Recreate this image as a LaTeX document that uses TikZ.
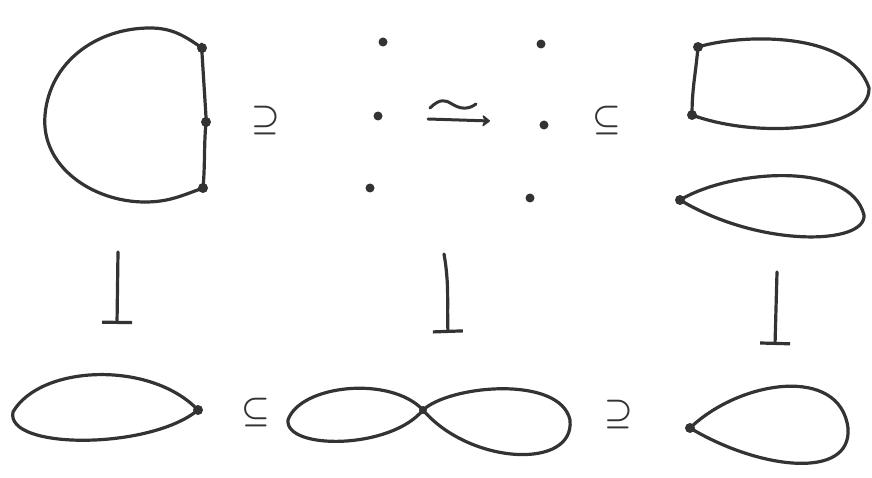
\documentclass[tikz,border=0pt]{standalone}
\usepackage{bm}
\usetikzlibrary{arrows.meta}
\newcommand{\bigrel}[1]{\scalebox{3.2}{$\bm{#1}$}}
\begin{document}
\begin{tikzpicture}[x=1pt,y=-1pt,
  ink/.style={draw=black!80, line width=3.2pt, line cap=round, line join=round},
  pt/.style={circle, fill=black!80, inner sep=0pt, minimum size=10pt},
  sdot/.style={circle, fill=black!80, inner sep=0pt, minimum size=9pt},
  rel/.style={text=black!80, inner sep=0pt},
  mapsto/.style={ink, -{Bar[width=30pt,line width=3.2pt]}}]
\useasboundingbox (0,0) rectangle (872,478);

% top-left D shape
\node[pt] (a1) at (202,48) {};
\node[pt] (a2) at (206,122) {};
\node[pt] (a3) at (203,188) {};
\draw[ink] (a1.center) to[out=95,in=-85] (a2.center) to[out=-95,in=85] (a3.center);
\draw[ink] (a1.center) to[out=145,in=0] (150,28) to[out=180,in=85] (45,115)
  to[out=-95,in=180] (145,202) to[out=0,in=-160] (a3.center);

\node[rel] (s1) at (266,121) {\bigrel{\supseteq}};

% middle dots
\node[sdot] (m1) at (383,42) {};
\node[sdot] (m2) at (541,44) {};
\node[sdot] (m3) at (378,116) {};
\node[sdot] (m4) at (544,125) {};
\node[sdot] (m5) at (370,188) {};
\node[sdot] (m6) at (530,198) {};

% homotopy equivalence arrow
\coordinate (h1) at (428,119);
\coordinate (h2) at (490,121);
\draw[ink, line width=3pt, -{Stealth[round,length=9pt,width=14pt,inset=3pt]}] (h1) -- (h2);
\draw[ink, line width=3pt] (430,108) .. controls (440,98) and (446,100) .. (452,104)
  .. controls (460,109) and (468,110) .. (476,104);

\node[rel] (s2) at (607,121) {\bigrel{\subseteq}};

% top-right D shape
\node[pt] (b1) at (698,47) {};
\node[pt] (b2) at (692,115) {};
\draw[ink] (b1.center) to[out=-95,in=90] (b2.center);
\draw[ink] (b1.center) .. controls (740,34) and (850,30) .. (869,88)
  .. controls (870,130) and (760,140) .. (b2.center);

% top-right teardrop
\node[pt] (c1) at (680,200) {};
\draw[ink] (c1.center) .. controls (730,170) and (850,160) .. (864,215)
  .. controls (866,245) and (760,248) .. (c1.center);

% vertical maps
\coordinate (v1a) at (118,252);
\coordinate (v1b) at (117,324);
\draw[mapsto] (v1a) -- (v1b);
\coordinate (v2a) at (444,254);
\coordinate (v2b) at (448,333);
\draw[mapsto] (v2a) to[out=-80,in=92] (v2b);
\coordinate (v3a) at (777,272);
\coordinate (v3b) at (775,345);
\draw[mapsto] (v3a) -- (v3b);

% bottom-left teardrop
\node[pt] (d1) at (198,410) {};
\draw[ink] (d1.center) .. controls (150,360) and (40,365) .. (13,412)
  .. controls (5,450) and (150,450) .. (d1.center);

\node[rel] (s3) at (256,412) {\bigrel{\subseteq}};

% figure eight
\node[pt, minimum size=8pt] (e1) at (423,410) {};
\draw[ink] (e1.center) .. controls (390,375) and (300,385) .. (288,420)
  .. controls (285,450) and (390,450) .. (e1.center);
\draw[ink] (e1.center) .. controls (450,385) and (560,375) .. (570,420)
  .. controls (575,470) and (470,465) .. (e1.center);

\node[rel] (s4) at (619,414) {\bigrel{\supseteq}};

% bottom-right teardrop
\node[pt] (f1) at (690,428) {};
\draw[ink] (f1.center) .. controls (740,380) and (840,365) .. (848,428)
  .. controls (852,480) and (760,470) .. (f1.center);
\end{tikzpicture}
\end{document}
